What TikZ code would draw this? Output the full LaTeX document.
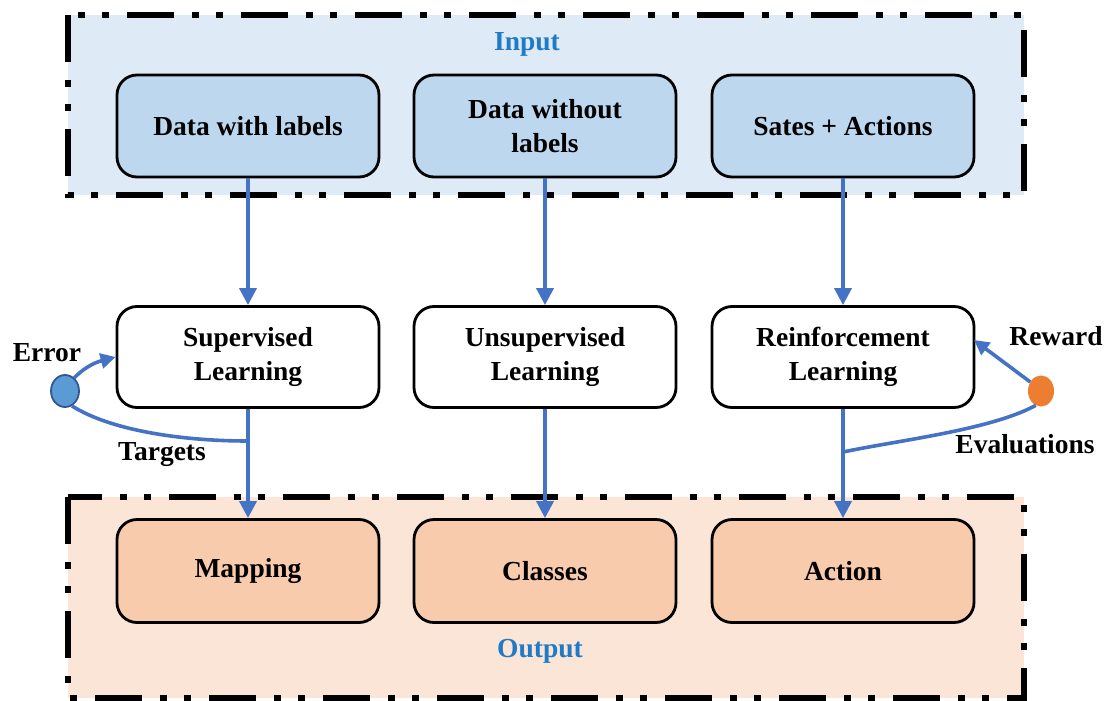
\documentclass[tikz,border=0pt]{standalone}
\usepackage{fontspec}
\setmainfont{Liberation Serif}
\usetikzlibrary{arrows.meta,shapes.geometric}
\definecolor{inbg}{HTML}{DEEAF6}
\definecolor{inbox}{HTML}{BDD7EE}
\definecolor{outbg}{HTML}{FBE5D6}
\definecolor{outbox}{HTML}{F8CBAD}
\definecolor{flow}{HTML}{4472C4}
\definecolor{lbl}{HTML}{1F7BC8}
\definecolor{errc}{HTML}{5B9BD5}
\definecolor{rewc}{HTML}{ED7D31}
\begin{document}
\begin{tikzpicture}[x=1pt,y=-1pt,
  frame/.style={line width=6pt,dash pattern=on 47pt off 18pt on 7pt off 17pt on 7pt off 18pt},
  box/.style={draw=black,line width=2.8pt,rounded corners=20pt,minimum width=262pt,minimum height=102pt,
    align=center,font=\fontsize{27.5}{34}\selectfont\bfseries,inner sep=0pt},
  inb/.style={box,fill=inbox},
  midb/.style={box,fill=white},
  outb/.style={box,fill=outbox},
  flowline/.style={draw=flow,line width=3.6pt},
  flowarrow/.style={flowline,-{Triangle[length=17pt,width=17pt]}},
  small/.style={flowline,-{Triangle[length=15pt,width=15pt]}},
  txt/.style={font=\fontsize{27.5}{32}\selectfont\bfseries,inner sep=0pt},
  ttl/.style={txt,text=lbl}]
\useasboundingbox (0,0) rectangle (1108,701);
% frames
\fill[inbg] (68,15) rectangle (1024,195);
\draw[frame] (68,15) rectangle (1024,195);
\fill[outbg] (68,497) rectangle (1024,698);
\draw[frame] (68,497) rectangle (1024,698);
\node[ttl] (tin) at (527,44) {Input};
\node[ttl] (tout) at (540,651) {Output};
% top boxes
\node[inb] (d1) at (248,126) {Data with labels};
\node[inb] (d2) at (545,126) {Data without\\labels};
\node[inb] (d3) at (843,126) {Sates + Actions};
% middle boxes
\node[midb,minimum height=101pt] (m1) at (248,357) {Supervised\\Learning};
\node[midb,minimum height=101pt] (m2) at (545,357) {Unsupervised\\Learning};
\node[midb,minimum height=101pt] (m3) at (843,357) {Reinforcement\\Learning};
% bottom boxes
\node[outb,minimum height=103pt] (o1) at (248,571) {Mapping};
\node[outb,minimum height=103pt] (o2) at (545,571) {Classes};
\node[outb,minimum height=103pt] (o3) at (843,571) {Action};
% arrows
\draw[flowarrow] (d1) -- (m1);
\draw[flowarrow] (d2) -- (m2);
\draw[flowarrow] (d3) -- (m3);
\draw[flowarrow] (m1) -- (o1);
\draw[flowarrow] (m2) -- (o2);
\draw[flowarrow] (m3) -- (o3);
% error loop
\node[draw=flow!75!black,fill=errc,line width=1.8pt,ellipse,minimum width=28pt,minimum height=32pt,inner sep=0pt] (err) at (65,391) {};
\coordinate (tj) at (248,441);
\draw[small] (err.55) to[out=45,in=195] (m1.west);
\draw[flowline] (err.-65) .. controls (110,430) and (180,441) .. (tj);
\node[txt] (terr) at (47,353) {Error};
\node[txt] (ttar) at (162,455) {Targets};
% reward loop
\node[fill=rewc,ellipse,minimum width=26pt,minimum height=31pt,inner sep=0pt] (rew) at (1041,391) {};
\coordinate (ej) at (843,452);
\coordinate (rin) at (974,340);
\draw[small] (rew.140) -- (rin);
\draw[flowline] (rew.-110) .. controls (990,430) and (900,440) .. (ej);
\node[txt] (trew) at (1056,336) {Reward};
\node[txt] (teva) at (1025,444) {Evaluations};
\end{tikzpicture}
\end{document}
